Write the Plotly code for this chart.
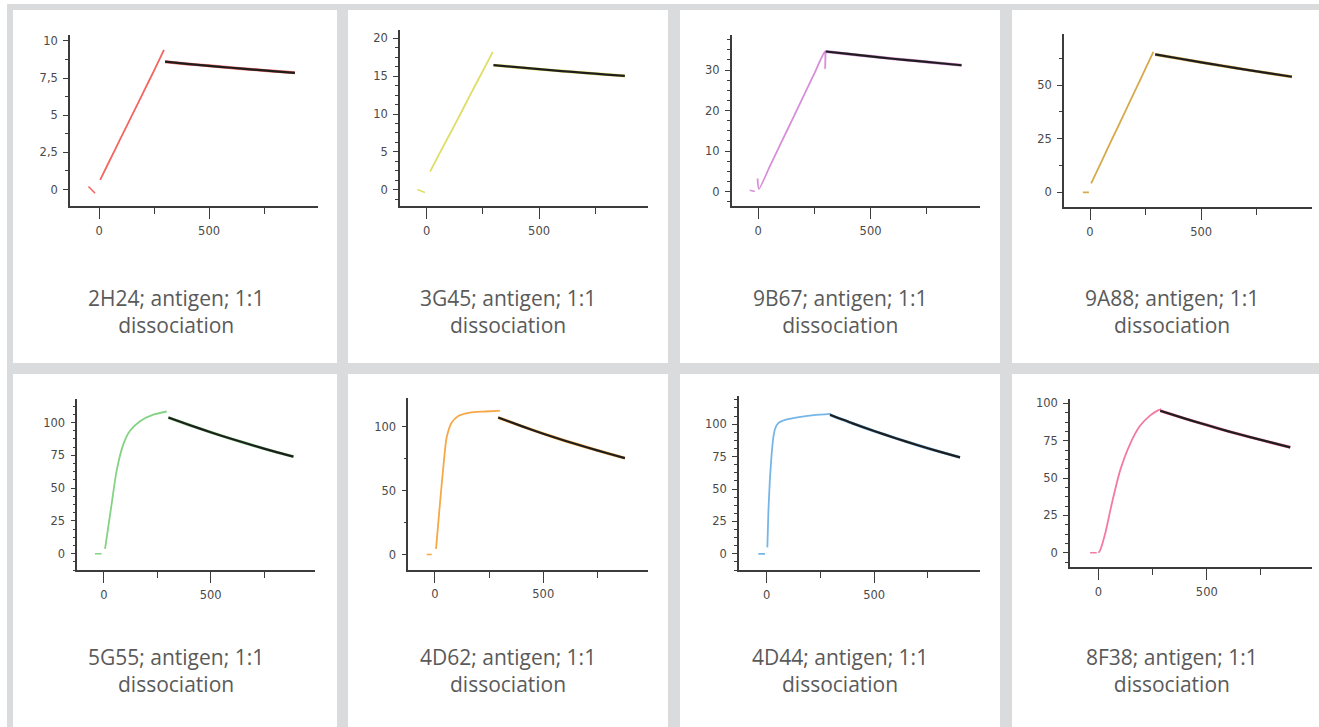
import plotly.graph_objects as go

W, H = 1319, 727

# ---------------------------------------------------------------------------
# Sensorgram data: time (s) vs. binding response for each antibody
# ---------------------------------------------------------------------------
sensors = ["2H24", "3G45", "9B67", "9A88", "5G55", "4D62", "4D44", "8F38"]
caption_line1 = [s + "; antigen; 1:1" for s in sensors]
caption_line2 = "dissociation"
trace_colors = ["#f2665f", "#dede66", "#d88ed8", "#d6a94c",
                "#84d384", "#f6a847", "#76b6e6", "#f27ba2"]

# 2H24
base_t_2H24 = [-48, -18]
base_y_2H24 = [0.2, -0.25]
assoc_t_2H24 = [5, 50, 100, 150, 200, 250, 295]
assoc_y_2H24 = [0.65, 2.0, 3.5, 5.0, 6.5, 8.0, 9.4]
diss_t_2H24 = [300, 400, 500, 600, 700, 800, 890]
diss_y_2H24 = [8.6, 8.45, 8.32, 8.19, 8.07, 7.95, 7.85]

# 3G45
base_t_3G45 = [-42, -8]
base_y_3G45 = [0.05, -0.35]
assoc_t_3G45 = [15, 50, 100, 150, 200, 250, 294]
assoc_y_3G45 = [2.4, 4.4, 7.2, 10.0, 12.9, 15.7, 18.2]
diss_t_3G45 = [297, 400, 500, 600, 700, 800, 882]
diss_y_3G45 = [16.45, 16.18, 15.92, 15.67, 15.44, 15.21, 15.03]

# 9B67
base_t_9B67 = [-38, -15]
base_y_9B67 = [0.3, 0.0]
assoc_t_9B67 = [-3, 3, 50, 100, 150, 200, 250, 297, 298, 300]
assoc_y_9B67 = [3.2, 0.6, 6.0, 11.8, 17.6, 23.4, 29.2, 34.6, 30.4, 34.4]
diss_t_9B67 = [300, 400, 500, 600, 700, 800, 905]
diss_y_9B67 = [34.6, 34.0, 33.4, 32.8, 32.3, 31.75, 31.2]

# 9A88
base_t_9A88 = [-32, -5]
base_y_9A88 = [0.0, 0.0]
assoc_t_9A88 = [5, 50, 100, 150, 200, 250, 285]
assoc_y_9A88 = [4.2, 14.0, 25.0, 35.9, 46.8, 57.8, 65.5]
diss_t_9A88 = [293, 400, 500, 600, 700, 800, 908]
diss_y_9A88 = [64.3, 62.4, 60.6, 58.9, 57.2, 55.6, 53.9]

# 5G55
base_t_5G55 = [-42, -11]
base_y_5G55 = [0.0, 0.0]
assoc_t_5G55 = [5, 36, 59, 91, 122, 169, 231, 294]
assoc_y_5G55 = [3.8, 38, 63, 83.5, 93.7, 101, 106, 108.4]
diss_t_5G55 = [302, 400, 500, 600, 700, 800, 888]
diss_y_5G55 = [103.8, 98.1, 92.6, 87.4, 82.5, 77.8, 74.0]

# 4D62
base_t_4D62 = [-38, -15]
base_y_4D62 = [0.0, 0.0]
assoc_t_4D62 = [5, 23, 38.5, 54, 77, 108, 161.5, 223, 285, 300]
assoc_y_4D62 = [4.4, 39.5, 68, 91.4, 103, 108.3, 110.9, 111.7, 112.2, 112.5]
diss_t_4D62 = [292, 400, 500, 600, 700, 800, 877]
diss_y_4D62 = [107.0, 100.3, 94.4, 88.9, 83.8, 78.9, 75.3]

# 4D44
base_t_4D44 = [-39, -8]
base_y_4D44 = [0.0, 0.0]
assoc_t_4D44 = [3, 8, 15, 23, 31, 39, 55, 90, 150, 220, 300]
assoc_y_4D44 = [5, 33, 58, 77, 90, 96.5, 101, 103.5, 105.5, 107, 108]
diss_t_4D44 = [295, 400, 500, 600, 700, 800, 900]
diss_y_4D44 = [107.2, 100.6, 94.7, 89.2, 83.9, 79.0, 74.4]

# 8F38
base_t_8F38 = [-38, -8]
base_y_8F38 = [0.0, 0.0]
assoc_t_8F38 = [0, 8, 31, 61.5, 100, 146, 192, 238, 277, 290]
assoc_y_8F38 = [0, 1.6, 12.7, 32.7, 55, 72.8, 85, 91.8, 95.5, 96.2]
diss_t_8F38 = [285, 400, 500, 600, 700, 800, 885]
diss_y_8F38 = [95.1, 89.8, 85.5, 81.3, 77.4, 73.7, 70.6]

# axis tick labels
x_tick_vals = [0, 500]
x_tick_text = ["0", "500"]
y_tick_vals = [
    [0, 2.5, 5, 7.5, 10],
    [0, 5, 10, 15, 20],
    [0, 10, 20, 30],
    [0, 25, 50],
    [0, 25, 50, 75, 100],
    [0, 50, 100],
    [0, 25, 50, 75, 100],
    [0, 25, 50, 75, 100],
]
y_tick_text = [
    ["0", "2,5", "5", "7,5", "10"],
    ["0", "5", "10", "15", "20"],
    ["0", "10", "20", "30"],
    ["0", "25", "50"],
    ["0", "25", "50", "75", "100"],
    ["0", "50", "100"],
    ["0", "25", "50", "75", "100"],
    ["0", "25", "50", "75", "100"],
]

series = [
    (base_t_2H24, base_y_2H24, assoc_t_2H24, assoc_y_2H24, diss_t_2H24, diss_y_2H24),
    (base_t_3G45, base_y_3G45, assoc_t_3G45, assoc_y_3G45, diss_t_3G45, diss_y_3G45),
    (base_t_9B67, base_y_9B67, assoc_t_9B67, assoc_y_9B67, diss_t_9B67, diss_y_9B67),
    (base_t_9A88, base_y_9A88, assoc_t_9A88, assoc_y_9A88, diss_t_9A88, diss_y_9A88),
    (base_t_5G55, base_y_5G55, assoc_t_5G55, assoc_y_5G55, diss_t_5G55, diss_y_5G55),
    (base_t_4D62, base_y_4D62, assoc_t_4D62, assoc_y_4D62, diss_t_4D62, diss_y_4D62),
    (base_t_4D44, base_y_4D44, assoc_t_4D44, assoc_y_4D44, diss_t_4D44, diss_y_4D44),
    (base_t_8F38, base_y_8F38, assoc_t_8F38, assoc_y_8F38, diss_t_8F38, diss_y_8F38),
]

# ---------------------------------------------------------------------------
# Layout geometry (pixels) – plot boxes, axis ranges, cards
# ---------------------------------------------------------------------------
plot_boxes = [  # left, right, top, bottom
    (70, 318, 33, 205),
    (400, 648, 28, 205),
    (731.7, 980, 33, 205),
    (1064, 1311.7, 31.7, 205.7),
    (77.3, 315, 398, 570),
    (408.3, 648.3, 396.7, 569.3),
    (739, 980, 395, 570),
    (1070, 1311.7, 398, 566.7),
]
x_ranges = [[-132, 995], [-119, 985], [-118, 987], [-117, 997],
            [-125, 989], [-123, 985], [-129, 993], [-131, 984]]
y_ranges = [[-1.14, 10.4], [-2.2, 21.1], [-3.7, 38.7], [-6.9, 74],
            [-12.7, 118], [-11.9, 122.6], [-12.8, 121.8], [-9.6, 103]]
y_minor_step = [1.25, 1.25, 2.5, 12.5, 6.25, 25, 6.25, 6.25]

card_cols = [(13, 337), (348, 668), (680, 1000), (1012, 1332)]
card_rows = [(8, 362), (373, 740)]
caption_x = [176, 508, 840, 1172]
caption_y = [310, 670]


def fx(px):
    return px / W


def fy(py):
    return 1 - py / H


AXIS_COLOR = "#3c3c3c"
TICK_FONT = dict(family="DejaVu Sans", size=11.5, color="#4a4a4a")

fig = go.Figure()
shapes = [
    dict(type="rect", xref="paper", yref="paper", layer="below",
         x0=fx(7), x1=fx(W + 5), y0=fy(H + 5), y1=fy(2),
         fillcolor="#dadbdd", line=dict(width=0)),
]
for (ry0, ry1) in card_rows:
    for (cx0, cx1) in card_cols:
        shapes.append(dict(type="rect", xref="paper", yref="paper", layer="below",
                           x0=fx(cx0), x1=fx(min(cx1, W + 5)),
                           y0=fy(min(ry1, H + 5)), y1=fy(ry0),
                           fillcolor="white", line=dict(width=0)))

annotations = []
layout_axes = {}
for i, (bt, by, at, ay, dt, dy) in enumerate(series):
    n = "" if i == 0 else str(i + 1)
    xa, ya = "x" + n, "y" + n
    color = trace_colors[i]
    # baseline before loading
    fig.add_trace(go.Scatter(x=bt, y=by, mode="lines", xaxis=xa, yaxis=ya,
                             line=dict(color=color, width=1.6), hoverinfo="skip"))
    # association phase
    fig.add_trace(go.Scatter(x=at, y=ay, mode="lines", xaxis=xa, yaxis=ya,
                             line=dict(color=color, width=1.8, shape="spline",
                                       smoothing=0.6), hoverinfo="skip"))
    # measured dissociation (under the fit)
    fig.add_trace(go.Scatter(x=dt, y=dy, mode="lines", xaxis=xa, yaxis=ya,
                             line=dict(color=color, width=3.0, shape="spline",
                                       smoothing=0.6), hoverinfo="skip"))
    # 1:1 dissociation fit
    fig.add_trace(go.Scatter(x=dt, y=dy, mode="lines", xaxis=xa, yaxis=ya,
                             line=dict(color="#1e1e1e", width=2.2, shape="spline",
                                       smoothing=0.6), hoverinfo="skip"))

    l, r, t, b = plot_boxes[i]
    layout_axes["xaxis" + n] = dict(
        domain=[fx(l), fx(r)], range=x_ranges[i], anchor=ya,
        showline=True, linecolor=AXIS_COLOR, linewidth=1.6,
        showgrid=False, zeroline=False,
        tickmode="array", tickvals=x_tick_vals, ticktext=x_tick_text,
        ticks="outside", ticklen=11, tickwidth=1.4, tickcolor=AXIS_COLOR,
        ticklabelstandoff=2, tickfont=TICK_FONT,
        minor=dict(tickmode="linear", tick0=0, dtick=250, ticks="outside",
                   ticklen=6, tickwidth=1.4, tickcolor=AXIS_COLOR, showgrid=False),
        fixedrange=True,
    )
    layout_axes["yaxis" + n] = dict(
        domain=[fy(b), fy(t)], range=y_ranges[i], anchor=xa,
        showline=True, linecolor=AXIS_COLOR, linewidth=1.6,
        showgrid=False, zeroline=False,
        tickmode="array", tickvals=y_tick_vals[i], ticktext=y_tick_text[i],
        ticks="outside", ticklen=5, tickwidth=1.3, tickcolor=AXIS_COLOR,
        ticklabelstandoff=3, tickfont=TICK_FONT,
        minor=dict(tickmode="linear", tick0=0, dtick=y_minor_step[i], ticks="outside",
                   ticklen=3, tickwidth=1.2, tickcolor=AXIS_COLOR, showgrid=False),
        fixedrange=True,
    )

    annotations.append(dict(
        xref="paper", yref="paper", x=fx(caption_x[i % 4]), y=fy(caption_y[i // 4]),
        xanchor="center", yanchor="middle", showarrow=False, align="center",
        text=caption_line1[i] + "<br>" + caption_line2,
        font=dict(family="Open Sans", size=21, color="#5a5a5a"),
    ))

fig.update_layout(
    width=W, height=H,
    margin=dict(l=0, r=0, t=0, b=0),
    paper_bgcolor="white", plot_bgcolor="rgba(0,0,0,0)",
    showlegend=False,
    shapes=shapes, annotations=annotations,
    **layout_axes,
)

fig.write_html("out.html", config={"displayModeBar": False})
